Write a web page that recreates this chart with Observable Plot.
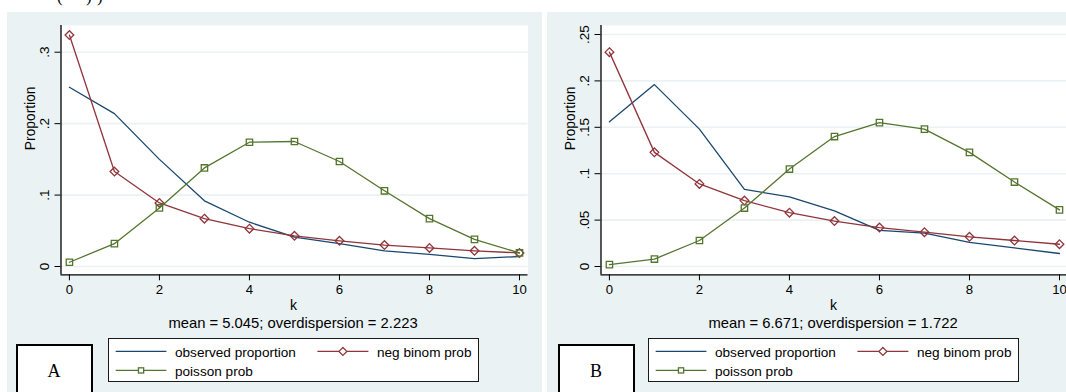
<!DOCTYPE html>
<html>
<head>
<meta charset="utf-8">
<script src="https://cdn.jsdelivr.net/npm/d3@7"></script>
<script src="https://cdn.jsdelivr.net/npm/@observablehq/plot@0.6"></script>
<style>
  html, body { margin: 0; padding: 0; background: #fff; width: 1066px; height: 392px; overflow: hidden; }
  body { position: relative; font-family: "Liberation Sans", Arial, sans-serif; color: #000; }
  .frag { position: absolute; top: -13px; font-family: "Liberation Serif", serif; font-size: 17px; }
  .panel { position: absolute; top: 12px; width: 535px; height: 390px; background: #eaf2f3; overflow: hidden; }
  .panel svg.chart { position: absolute; left: 0; top: 0; }
  .ktitle, .note { position: absolute; white-space: nowrap; transform: translate(-50%, -50%); }
  .ktitle { font-size: 14px; }
  .note { font-size: 14.8px; }
  .legend { position: absolute; background: #fff; border: 1px solid #1a1a1a; box-sizing: border-box; }
  .legend span { position: absolute; font-size: 13.6px; white-space: nowrap; transform: translateY(-50%); }
  .legend svg { position: absolute; left: 0; top: 0; }
  .tag { position: absolute; background: #fff; border: 2px solid #000; box-sizing: border-box;
         font-family: "Liberation Serif", "Times New Roman", serif; font-size: 18px; }
  .tag div { position: absolute; left: 0; right: 0; text-align: center; transform: translateY(-50%); }
</style>
</head>
<body>
<span class="frag" style="left:57px">(</span>
<span class="frag" style="left:86px">)</span>
<span class="frag" style="left:97px">)</span>
<div id="pA" class="panel" style="left:7px"></div>
<div id="pB" class="panel" style="left:547px"></div>
<script>
// ---------- data ----------
const k = [0, 1, 2, 3, 4, 5, 6, 7, 8, 9, 10];

const observedA = [0.251, 0.214, 0.150, 0.092, 0.062, 0.041, 0.032, 0.022, 0.017, 0.011, 0.014];
const negbinA   = [0.324, 0.133, 0.089, 0.067, 0.053, 0.043, 0.036, 0.030, 0.026, 0.022, 0.019];
const poissonA  = [0.006, 0.032, 0.082, 0.138, 0.174, 0.175, 0.147, 0.106, 0.067, 0.038, 0.019];

const observedB = [0.156, 0.196, 0.148, 0.083, 0.075, 0.060, 0.039, 0.036, 0.026, 0.020, 0.014];
const negbinB   = [0.231, 0.123, 0.089, 0.071, 0.058, 0.049, 0.042, 0.037, 0.032, 0.028, 0.024];
const poissonB  = [0.002, 0.008, 0.028, 0.063, 0.105, 0.140, 0.155, 0.148, 0.123, 0.091, 0.061];

const xTicks = [0, 2, 4, 6, 8, 10];
const yTicksA = [0, 0.1, 0.2, 0.3];
const yLabelsA = ["0", ".1", ".2", ".3"];
const yTicksB = [0, 0.05, 0.1, 0.15, 0.2, 0.25];
const yLabelsB = ["0", ".05", ".1", ".15", ".2", ".25"];

const seriesNames = ["observed proportion", "neg binom prob", "poisson prob"];
const notes = ["mean = 5.045; overdispersion = 2.223", "mean = 6.671; overdispersion = 1.722"];
const tags = ["A", "B"];
const xLabel = "k";
const yLabel = "Proportion";

// ---------- style ----------
const navy = "#1a476f", maroon = "#90353b", green = "#55752f", bg = "#eaf2f3";
const FONT = "'Liberation Sans', Arial, sans-serif";

function drawPanel(el, obs, neg, pois, yDomain, yTicks, yLabels, note, tag, tagLeft) {
  const rows = k.map((kk, i) => ({k: kk, obs: obs[i], neg: neg[i], pois: pois[i]}));
  const labelOf = new Map(yTicks.map((t, i) => [t, yLabels[i]]));
  const xDomain = [-0.187, 10.189];
  const chart = Plot.plot({
    width: 535, height: 300,
    marginLeft: 53.5, marginRight: 14.5, marginTop: 13, marginBottom: 37.7,
    style: {background: "transparent", fontFamily: FONT, fontSize: "13px", color: "#000", overflow: "visible"},
    x: {domain: xDomain, label: null},
    y: {domain: yDomain, label: null},
    marks: [
      Plot.frame({fill: "#fff", stroke: null}),
      Plot.gridY(yTicks, {stroke: bg, strokeOpacity: 1, strokeWidth: 1.6}),
      Plot.ruleX([xDomain[0]], {stroke: "#000", strokeWidth: 1.3}),
      Plot.ruleY([yDomain[0]], {stroke: "#000", strokeWidth: 1.3}),
      Plot.axisX(xTicks, {tickSize: 6, tickPadding: 4, fontSize: 13.2, stroke: "#000", tickFormat: d => String(d), label: null}),
      Plot.axisY(yTicks, {tickSize: 6, tickPadding: 6, tickRotate: -90, fontSize: 13.5, stroke: "#000",
                          tickFormat: d => labelOf.get(d), label: null}),
      Plot.text([yLabel], {frameAnchor: "left", dx: -30.5, rotate: -90, fontSize: 13.8, fill: "#000"}),
      Plot.line(rows, {x: "k", y: "obs", stroke: navy, strokeWidth: 1.3}),
      Plot.line(rows, {x: "k", y: "neg", stroke: maroon, strokeWidth: 1.3}),
      Plot.dot(rows, {x: "k", y: "neg", symbol: "diamond2", r: 3.9, stroke: maroon, fill: "none", strokeWidth: 1.3}),
      Plot.line(rows, {x: "k", y: "pois", stroke: green, strokeWidth: 1.3}),
      Plot.dot(rows, {x: "k", y: "pois", symbol: "square", r: 3.6, stroke: green, fill: "none", strokeWidth: 1.3})
    ]
  });
  chart.classList.add("chart");
  el.appendChild(chart);

  const kt = document.createElement("div");
  kt.className = "ktitle"; kt.textContent = xLabel;
  kt.style.left = "286.5px"; kt.style.top = "293px";
  el.appendChild(kt);

  const nt = document.createElement("div");
  nt.className = "note"; nt.textContent = note;
  nt.style.left = "286px"; nt.style.top = "311.3px";
  el.appendChild(nt);

  // legend
  const lg = document.createElement("div");
  lg.className = "legend";
  Object.assign(lg.style, {left: "101.3px", top: "326.3px", width: "371px", height: "44px"});
  const svg = d3.create("svg").attr("width", 371).attr("height", 44);
  const entries = [
    {name: seriesNames[0], color: navy, sym: null, x0: 6.7, x1: 57.4, tx: 65.7, y: 12.4},
    {name: seriesNames[1], color: maroon, sym: "diamond", x0: 208.4, x1: 259.4, tx: 267.7, y: 12.4},
    {name: seriesNames[2], color: green, sym: "square", x0: 6.7, x1: 57.4, tx: 65.7, y: 31.4}
  ];
  for (const e of entries) {
    svg.append("line").attr("x1", e.x0).attr("x2", e.x1).attr("y1", e.y).attr("y2", e.y)
      .attr("stroke", e.color).attr("stroke-width", 1.3);
    const cx = (e.x0 + e.x1) / 2;
    if (e.sym === "diamond") {
      svg.append("path").attr("d", d3.symbol(d3.symbolDiamond2, 40)())
        .attr("transform", `translate(${cx},${e.y})`).attr("fill", "#fff").attr("stroke", e.color).attr("stroke-width", 1.3);
    } else if (e.sym === "square") {
      svg.append("rect").attr("x", cx - 2.6).attr("y", e.y - 2.6).attr("width", 5.2).attr("height", 5.2)
        .attr("fill", "#fff").attr("stroke", e.color).attr("stroke-width", 1.3);
    }
    const sp = document.createElement("span");
    sp.textContent = e.name;
    sp.style.left = e.tx + "px"; sp.style.top = e.y + "px";
    lg.appendChild(sp);
  }
  lg.insertBefore(svg.node(), lg.firstChild);
  el.appendChild(lg);

  const tg = document.createElement("div");
  tg.className = "tag";
  Object.assign(tg.style, {left: tagLeft + "px", top: "332px", width: "77px", height: "70px"});
  const tt = document.createElement("div");
  tt.textContent = tag; tt.style.top = "25px";
  tg.appendChild(tt);
  el.appendChild(tg);
}

drawPanel(document.getElementById("pA"), observedA, negbinA, poissonA,
          [-0.0116, 0.3374], yTicksA, yLabelsA, notes[0], tags[0], 8.5);
drawPanel(document.getElementById("pB"), observedB, negbinB, poissonB,
          [-0.00894, 0.2597], yTicksB, yLabelsB, notes[1], tags[1], 10.5);
</script>
</body>
</html>
